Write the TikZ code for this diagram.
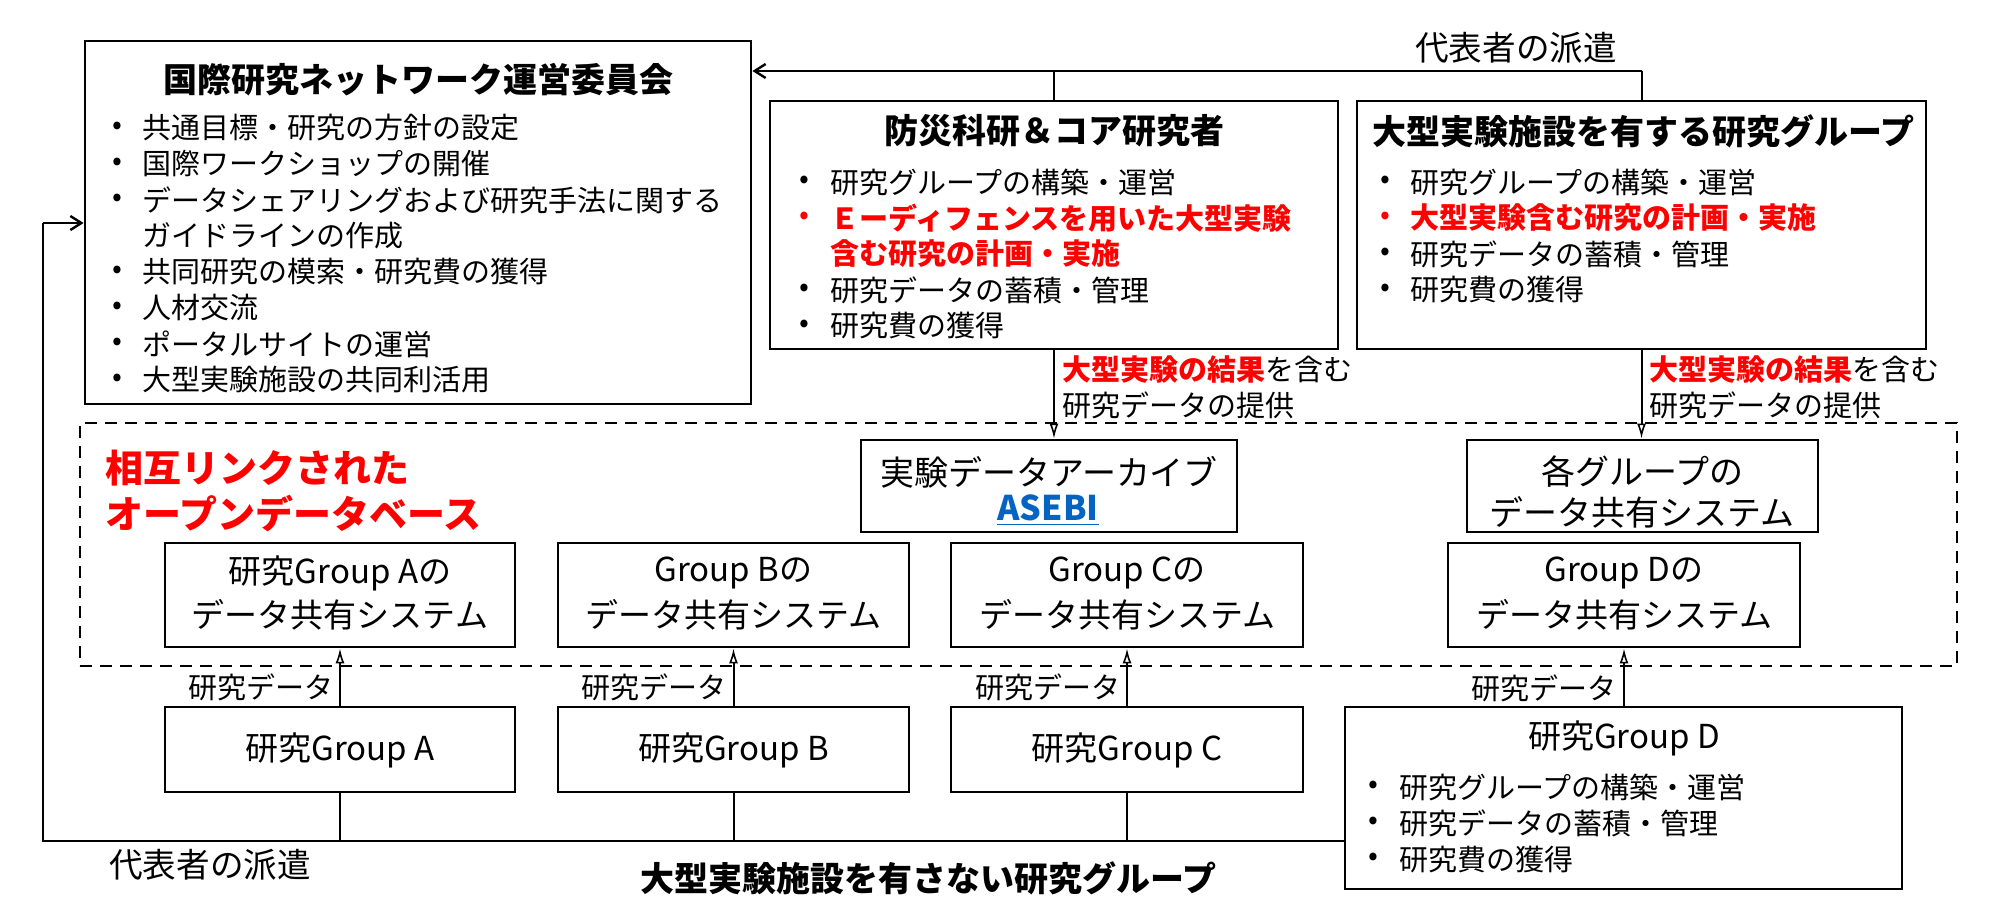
\documentclass[tikz,border=0pt]{standalone}
\usepackage{fontspec}
\setmainfont{Noto Sans CJK JP}
\usetikzlibrary{arrows.meta,fit}
\definecolor{myred}{RGB}{255,0,0}
\definecolor{myblue}{RGB}{5,99,193}
\begin{document}
\begin{tikzpicture}[x=0.5pt,y=-0.5pt,
  boxst/.style={draw, line width=1.4pt, inner sep=0pt},
  dashbox/.style={draw, line width=1.1pt, dash pattern=on 6pt off 4pt, inner sep=0pt},
  bt/.style={inner sep=0pt, anchor=west, font=\fontsize{14.5}{18}\selectfont},
  bul/.style={inner sep=0pt, font=\fontsize{14.5}{18}\selectfont},
  ttl/.style={inner sep=0pt, font=\fontsize{17}{20}\selectfont\bfseries},
  mid/.style={inner sep=0pt, font=\fontsize{16.5}{20}\selectfont},
  lbl/.style={inner sep=0pt, font=\fontsize{14.5}{18}\selectfont},
  conn/.style={line width=1pt},
  barb/.style={line width=1.1pt, -{Straight Barb[length=5.5pt,width=7pt,line width=1.2pt]}},
  tri/.style={line width=1pt, -{Latex[open,length=7.5pt,width=4.5pt,line width=0.8pt]}}]
\useasboundingbox (0,0) rectangle (2000,910);

% ---------- boxes ----------
\node[boxst, fit={(85,41) (751,404)}] (com) {};
\node[boxst, fit={(770,101) (1338,349)}] (bosai) {};
\node[boxst, fit={(1357,101) (1926,349)}] (ogata) {};
\node[dashbox, fit={(80,423) (1957,666)}] (odb) {};
\node[boxst, fit={(861,440) (1237,532)}] (arch) {};
\node[boxst, fit={(1467,440) (1818,532)}] (kaku) {};
\node[boxst, fit={(165,543) (515,647)}] (sA) {};
\node[boxst, fit={(558,543) (909,647)}] (sB) {};
\node[boxst, fit={(951,543) (1303,647)}] (sC) {};
\node[boxst, fit={(1448,543) (1800,647)}] (sD) {};
\node[boxst, fit={(165,707) (515,792)}] (gA) {};
\node[boxst, fit={(558,707) (909,792)}] (gB) {};
\node[boxst, fit={(951,707) (1303,792)}] (gC) {};
\node[boxst, fit={(1345,707) (1902,889)}] (gD) {};

% ---------- committee ----------
\node[ttl] (comT) at (418,80) {国際研究ネットワーク運営委員会};
\foreach \i/\y in {1/128,2/164,3/200,4/272,5/308,6/344,7/380}
  \node[bul] (comB\i) at (117,\y) {•};
\node[bt] (comL1) at (142,128) {共通目標・研究の方針の設定};
\node[bt] (comL2) at (142,164) {国際ワークショップの開催};
\node[bt] (comL3) at (142,200) {データシェアリングおよび研究手法に関する};
\node[bt] (comL4) at (142,236) {ガイドラインの作成};
\node[bt] (comL5) at (142,272) {共同研究の模索・研究費の獲得};
\node[bt] (comL6) at (142,308) {人材交流};
\node[bt] (comL7) at (142,344) {ポータルサイトの運営};
\node[bt] (comL8) at (142,380) {大型実験施設の共同利活用};

% ---------- bosai ----------
\node[ttl] (bosaiT) at (1054,131) {防災科研＆コア研究者};
\node[bul] (bB1) at (804,182) {•};
\node[bul, text=myred] (bB2) at (804,218) {•};
\node[bul] (bB3) at (804,290) {•};
\node[bul] (bB4) at (804,326) {•};
\node[bt] (bL1) at (830,182) {研究グループの構築・運営};
\node[bt, text=myred, font=\fontsize{14.5}{18}\selectfont\bfseries] (bL2) at (830,218) {Ｅーディフェンスを用いた大型実験};
\node[bt, text=myred, font=\fontsize{14.5}{18}\selectfont\bfseries] (bL3) at (830,254) {含む研究の計画・実施};
\node[bt] (bL4) at (830,290) {研究データの蓄積・管理};
\node[bt] (bL5) at (830,326) {研究費の獲得};

% ---------- ogata ----------
\node[ttl] (ogataT) at (1643,131) {大型実験施設を有する研究グループ};
\node[bul] (oB1) at (1385,182) {•};
\node[bul, text=myred] (oB2) at (1385,218) {•};
\node[bul] (oB3) at (1385,254) {•};
\node[bul] (oB4) at (1385,290) {•};
\node[bt] (oL1) at (1410,182) {研究グループの構築・運営};
\node[bt, text=myred, font=\fontsize{14.5}{18}\selectfont\bfseries] (oL2) at (1410,218) {大型実験含む研究の計画・実施};
\node[bt] (oL3) at (1410,254) {研究データの蓄積・管理};
\node[bt] (oL4) at (1410,290) {研究費の獲得};

% ---------- top connector ----------
\coordinate (topR) at (1641.5,71);
\draw[conn] (ogata.north) -- (topR);
\draw[barb] (topR) -- (com.east |- topR);
\draw[conn] (bosai.north) -- (bosai.north |- topR);
\node[inner sep=0pt, font=\fontsize{16.8}{20}\selectfont] (hakenT) at (1516,48) {代表者の派遣};

% ---------- down arrows ----------
\draw[tri] (bosai.south) -- (bosai.south |- arch.north);
\draw[tri] (ogata.south) -- (ogata.south |- kaku.north);
\node[lbl, anchor=west] (d1a) at (1062,370) {\textcolor{myred}{\bfseries 大型実験の結果}を含む};
\node[lbl, anchor=west] (d1b) at (1062,405) {研究データの提供};
\node[lbl, anchor=west] (d2a) at (1649,370) {\textcolor{myred}{\bfseries 大型実験の結果}を含む};
\node[lbl, anchor=west] (d2b) at (1649,405) {研究データの提供};

% ---------- open database ----------
\node[inner sep=0pt, anchor=west, text=myred, font=\fontsize{19}{22}\selectfont\bfseries] (odbT1) at (105,468) {相互リンクされた};
\node[inner sep=0pt, anchor=west, text=myred, font=\fontsize{19}{22}\selectfont\bfseries] (odbT2) at (105,513) {オープンデータベース};
\node[inner sep=0pt, font=\fontsize{17}{20}\selectfont] (archT1) at (1049,472) {実験データアーカイブ};
\node[inner sep=0pt, font=\fontsize{17}{20}\selectfont\bfseries, text=myblue] (archT2) at (1048,510) {\underline{ASEBI}};
\node[inner sep=0pt, font=\fontsize{17}{20}\selectfont] (kakuT1) at (1642,472) {各グループの};
\node[inner sep=0pt, font=\fontsize{17}{20}\selectfont] (kakuT2) at (1642,512) {データ共有システム};

\node[mid] (sAT1) at (340,573) {研究Group Aの};
\node[mid] (sAT2) at (340,615) {データ共有システム};
\node[mid] (sBT1) at (733.5,573) {Group Bの};
\node[mid] (sBT2) at (733.5,615) {データ共有システム};
\node[mid] (sCT1) at (1127,573) {Group Cの};
\node[mid] (sCT2) at (1127,615) {データ共有システム};
\node[mid] (sDT1) at (1624,573) {Group Dの};
\node[mid] (sDT2) at (1624,615) {データ共有システム};

% ---------- groups ----------
\node[mid] (gAT) at (340,750) {研究Group A};
\node[mid] (gBT) at (733.5,750) {研究Group B};
\node[mid] (gCT) at (1127,750) {研究Group C};
\node[mid] (gDT) at (1624,738) {研究Group D};
\node[bul] (dB1) at (1373,787) {•};
\node[bul] (dB2) at (1373,823) {•};
\node[bul] (dB3) at (1373,859) {•};
\node[bt] (dL1) at (1399,787) {研究グループの構築・運営};
\node[bt] (dL2) at (1399,823) {研究データの蓄積・管理};
\node[bt] (dL3) at (1399,859) {研究費の獲得};

% ---------- up arrows ----------
\draw[tri] (gA.north) -- (sA.south);
\draw[tri] (gB.north) -- (sB.south);
\draw[tri] (gC.north) -- (sC.south);
\draw[tri] (gD.north -| sD.south) -- (sD.south);
\node[lbl, anchor=east] (uA) at (334,687) {研究データ};
\node[lbl, anchor=east] (uB) at (727,687) {研究データ};
\node[lbl, anchor=east] (uC) at (1121,687) {研究データ};
\node[lbl, anchor=east] (uD) at (1617,688) {研究データ};

% ---------- bottom connector ----------
\coordinate (botL) at (43,841);
\coordinate (upL) at (43,223);
\draw[conn] (gA.south) -- (gA.south |- botL);
\draw[conn] (gB.south) -- (gB.south |- botL);
\draw[conn] (gC.south) -- (gC.south |- botL);
\draw[conn] (gD.west |- botL) -- (botL) -- (upL);
\draw[barb] (upL) -- (com.west |- upL);
\node[inner sep=0pt, font=\fontsize{16.8}{20}\selectfont] (hakenB) at (210,865) {代表者の派遣};
\node[ttl] (botT) at (928,878) {大型実験施設を有さない研究グループ};
\end{tikzpicture}
\end{document}
